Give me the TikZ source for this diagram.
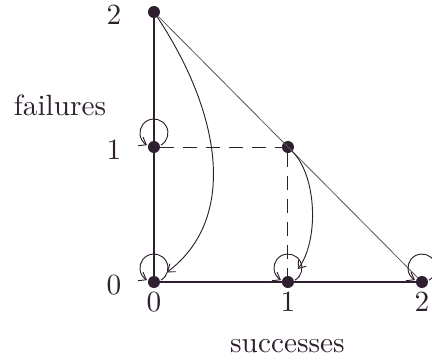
\documentclass[tikz,border=0pt]{standalone}
\usetikzlibrary{arrows.meta}
\definecolor{ink}{RGB}{46,32,46}
\definecolor{diag}{RGB}{95,85,95}
\begin{document}
\begin{tikzpicture}[x=4.02cm, y=4.05cm, >={Straight Barb[length=.2cm,width=.3cm]},
    state/.style={circle, fill=ink, inner sep=0pt, minimum size=.36cm},
    lbl/.style={scale=2.5, inner sep=0pt, text=ink},
    curve/.style={draw=ink, line width=.8pt, ->}]
    \useasboundingbox (-1.149,-.607) rectangle (2.075,2.089);
    \node[state] (n00) at (0,0) {};
    \node[state] (n10) at (1,0) {};
    \node[state] (n20) at (2,0) {};
    \node[state] (n01) at (0,1) {};
    \node[state] (n11) at (1,1) {};
    \node[state] (n02) at (0,2) {};
    \draw[diag, line width=.7pt] (n02) -- (n20);
    \draw[ink, line width=1.3pt] (n02) -- (n01) -- (n00) -- (n10) -- (n20);
    \draw[ink, line width=.8pt, dash pattern=on .42cm off .27cm] (n01) -- (n11) -- (n10);
    \draw[curve, shorten >=.3cm] (n02) .. controls +(.5,-.75) and +(.63,.47) .. (n00);
    \draw[curve, shorten >=.3cm] (n11) .. controls +(.22,-.22) and +(.23,.3) .. (n10);
    \foreach \s in {n01,n00,n10,n20}
      \draw[curve] ([shift={(.21cm,.056cm)}]\s.center) arc[start angle=-60, end angle=240, radius=.42cm];
    \foreach \i in {0,1,2} {
      \node[lbl, anchor=base] (x\i) at (\i,-.215) {\i};
      \node[lbl, anchor=base east] (y\i) at (-.239,\i-.089) {\i};
    }
    \node[lbl, anchor=base] (ylab) at (-.701,1.237) {failures};
    \node[lbl, anchor=base] (xlab) at (.996,-.519) {successes};
\end{tikzpicture}
\end{document}
